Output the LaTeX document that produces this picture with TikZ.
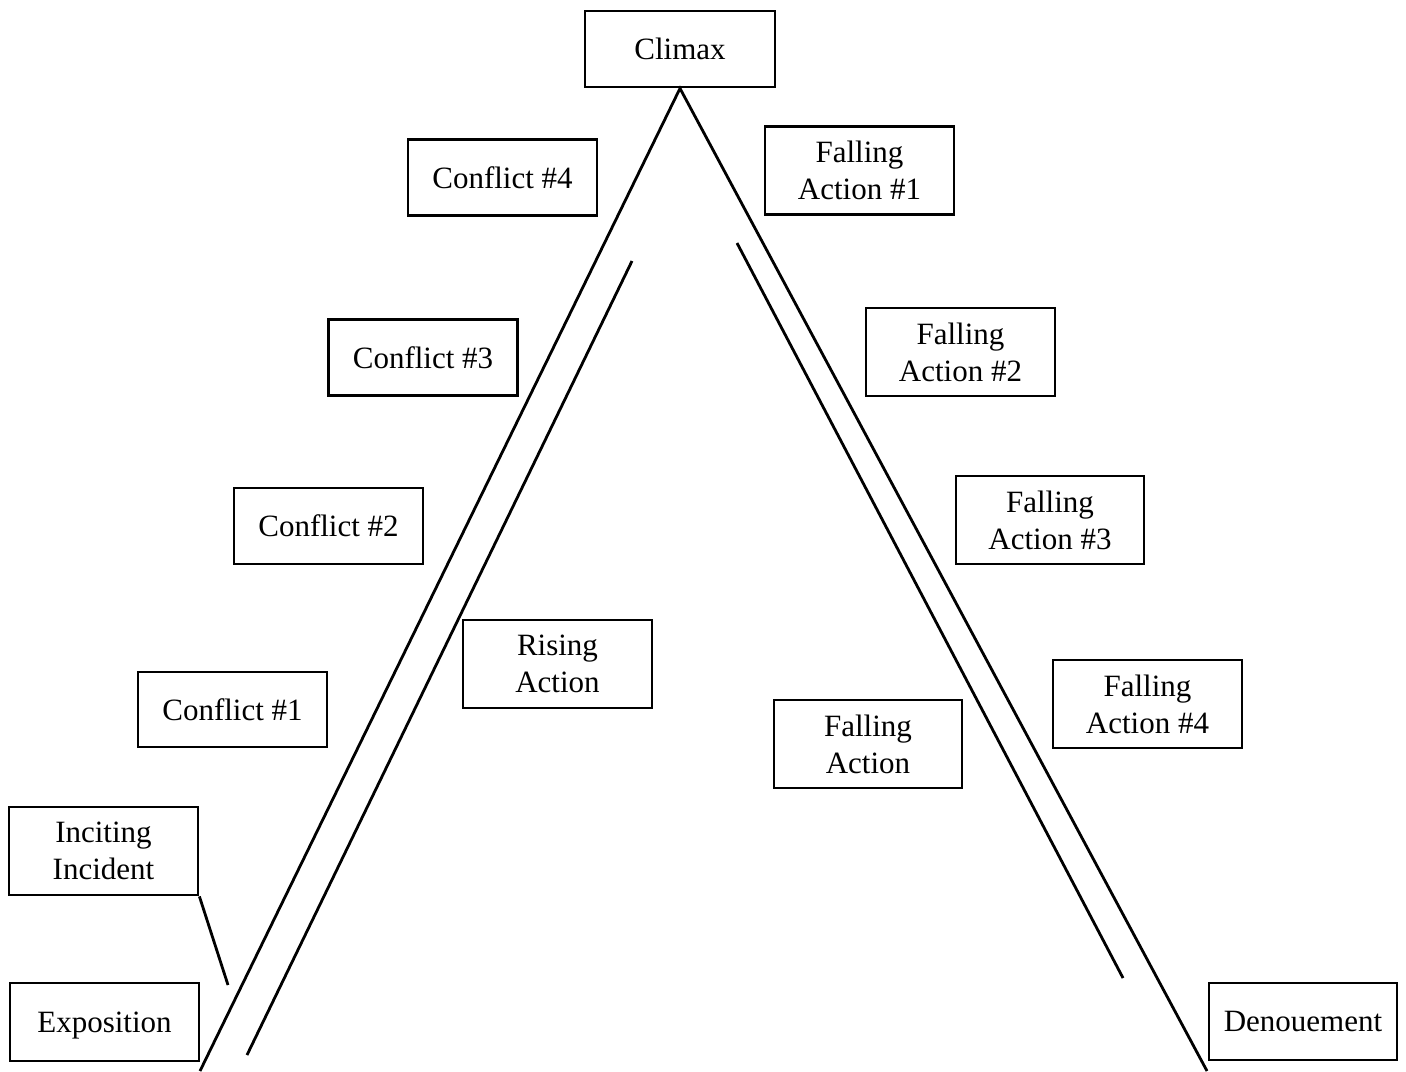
\documentclass[tikz,border=0pt]{standalone}
\usepackage{fontspec}
\setmainfont{Liberation Serif}
\begin{document}
\begin{tikzpicture}[x=0.5pt,y=-0.5pt,
  box/.style={draw, line width=1.4pt, inner sep=0pt, align=center, text depth=-2.5pt,
    font=\fontsize{15.5}{18.5}\selectfont},
  ln/.style={line width=1.4pt}]
\useasboundingbox (0,0) rectangle (1406,1071);
% boxes: center, size in pt (px/2)
\node[box, minimum width=95pt, minimum height=38pt] (cl) at (680,49) {Climax};
\node[box, minimum width=94.5pt, minimum height=38pt] (c4) at (502.5,177.5) {Conflict \#4};
\node[box, minimum width=94.5pt, minimum height=38pt] (c3) at (423,357.5) {Conflict \#3};
\node[box, minimum width=94.5pt, minimum height=38pt] (c2) at (328.5,526) {Conflict \#2};
\node[box, minimum width=94.5pt, minimum height=37.5pt] (c1) at (232.5,709.5) {Conflict \#1};
\node[box, minimum width=94.5pt, minimum height=44pt] (ra) at (557.5,664) {Rising\\Action};
\node[box, minimum width=94.5pt, minimum height=44pt] (f1) at (859.5,170.5) {Falling\\Action \#1};
\node[box, minimum width=94.5pt, minimum height=44pt] (f2) at (960.5,352) {Falling\\Action \#2};
\node[box, minimum width=94pt, minimum height=44pt] (f3) at (1050,520) {Falling\\Action \#3};
\node[box, minimum width=94.5pt, minimum height=44pt] (f4) at (1147.5,704) {Falling\\Action \#4};
\node[box, minimum width=94pt, minimum height=44pt] (fa) at (868,744) {Falling\\Action};
\node[box, minimum width=94.5pt, minimum height=44pt] (ii) at (103.5,851) {Inciting\\Incident};
\node[box, minimum width=94.5pt, minimum height=39pt] (ex) at (104.5,1022) {Exposition};
\node[box, minimum width=94pt, minimum height=38.5pt] (de) at (1303,1021.5) {Denouement};
% triangle
\coordinate (lb) at (200,1071);
\coordinate (rb) at (1207,1071);
\draw[ln] (lb) -- (cl.south) -- (rb);
% inner lines
\coordinate (ilt) at (632,261);
\coordinate (ilb) at (247,1055);
\coordinate (irt) at (737,243);
\coordinate (irb) at (1123,978);
\draw[ln] (ilt) -- (ilb);
\draw[ln] (irt) -- (irb);
% inciting pointer
\coordinate (ip) at (228,985);
\draw[ln] (ii.south east) -- (ip);
\end{tikzpicture}
\end{document}
